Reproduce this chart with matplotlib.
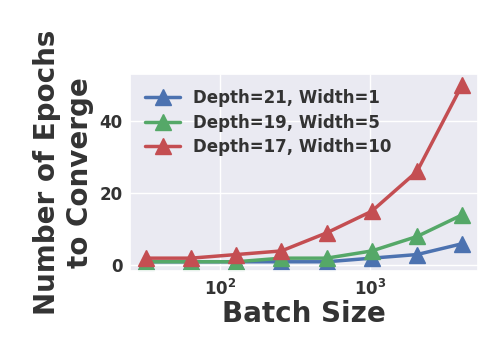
import numpy as np
import matplotlib
matplotlib.use("Agg")
import matplotlib.pyplot as plt
import seaborn as sns

batch_sizes = [32, 64, 128, 256, 512, 1024, 2048, 4096]
d21_w1 = [1, 1, 1, 1, 1, 2, 3, 6]
d19_w5 = [1, 1, 1, 2, 2, 4, 8, 14]
d17_w10 = [2, 2, 3, 4, 9, 15, 26, 50]
labels = ["Depth=21, Width=1", "Depth=19, Width=5", "Depth=17, Width=10"]

sns.set_theme(style="darkgrid")
plt.rcParams['font.family'] = ['DejaVu Sans']
plt.rcParams['font.weight'] = 'bold'
plt.rcParams['text.color'] = '.2'
plt.rcParams['axes.labelcolor'] = '.2'
plt.rcParams['xtick.color'] = '.2'
plt.rcParams['ytick.color'] = '.2'

fig = plt.figure(figsize=(4.78, 3.54), dpi=100)
ax = fig.add_axes([0.272, 0.234, 0.728, 0.557])

colors = sns.color_palette("deep")
for ys, c, lab in zip([d21_w1, d19_w5, d17_w10], [colors[0], colors[2], colors[3]], labels):
    ax.plot(batch_sizes, ys, color=c, marker='^', markersize=12, linewidth=2.5, label=lab)

ax.set_xscale('log')
ax.set_ylim(-1.6, 53)
ax.set_yticks([0, 20, 40])
ax.minorticks_off()
ax.tick_params(labelsize=12, length=0, pad=5.5)
for t in ax.get_xticklabels() + ax.get_yticklabels():
    t.set_fontweight('bold')
ax.set_xlabel("Batch Size", fontsize=20, fontweight='bold', labelpad=1)
ax.set_ylabel("Number of Epochs\nto Converge", fontsize=20, fontweight='bold', labelpad=4)
ax.legend(loc='upper left', frameon=False, prop={'weight': 'bold', 'size': 12},
          handlelength=2.1, borderaxespad=0.5, labelspacing=0.4)

fig.savefig("out.png", dpi=100)
